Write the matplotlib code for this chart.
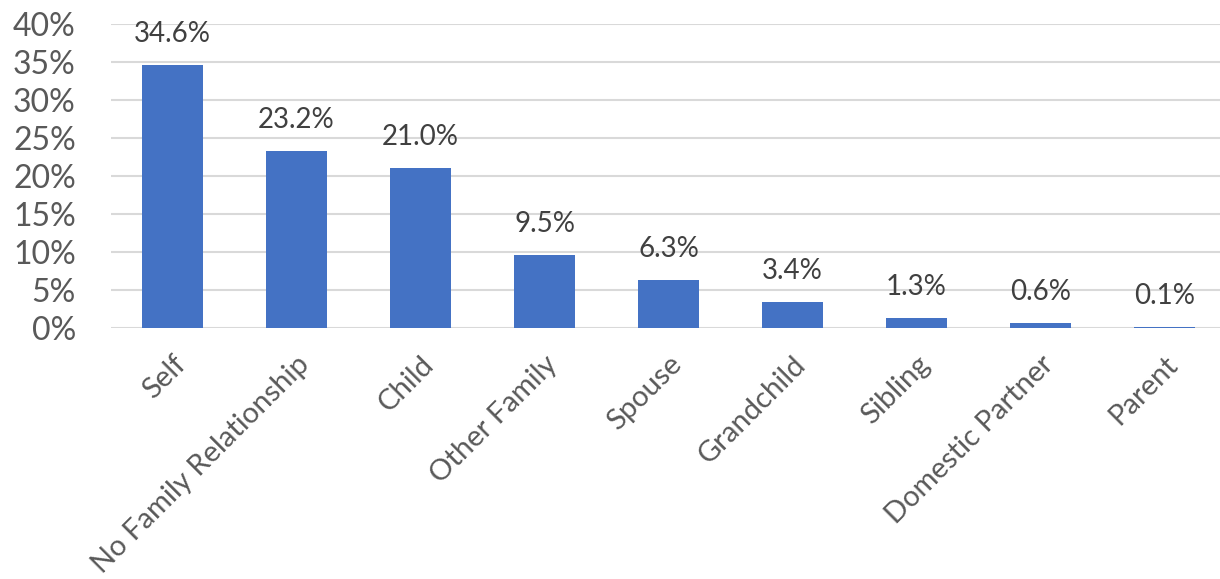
import matplotlib.pyplot as plt
from matplotlib.ticker import FuncFormatter

# --- datos ---
categorias = ["Self", "No Family Relationship", "Child", "Other Family", "Spouse",
              "Grandchild", "Sibling", "Domestic Partner", "Parent"]
valores = [34.6, 23.2, 21.0, 9.5, 6.3, 3.4, 1.3, 0.6, 0.1]
y_ticks = [0, 5, 10, 15, 20, 25, 30, 35, 40]

BAR_COLOR = "#4472C4"
TEXT_COLOR = "#595959"
LABEL_COLOR = "#404040"

plt.rcParams['font.family'] = ['Lato', 'DejaVu Sans']

fig = plt.figure(figsize=(12.2, 5.79), dpi=100)
W, H = 1220, 579
# ejes colocados en pixeles (0% en y=328, 40% en y=23.5)
ax = fig.add_axes([110.5 / W, (H - 327.7) / H, 1116 / W, 304.2 / H])

x = range(len(categorias))
bars = ax.bar(x, valores, width=0.49, color=BAR_COLOR, zorder=3)

for b, v in zip(bars, valores):
    ax.annotate(f"{v:.1f}%", (b.get_x() + b.get_width() / 2, v),
                xytext=(0, 13), textcoords="offset points",
                ha="center", va="bottom", fontsize=20, color=LABEL_COLOR)

ax.set_xlim(-0.5, len(categorias) - 0.5)
ax.set_ylim(0, 40)
ax.set_yticks(y_ticks)
ax.yaxis.set_major_formatter(FuncFormatter(lambda v, p: f"{v:.0f}%"))
ax.grid(axis="y", color="#D9D9D9", linewidth=1.5, zorder=0)
ax.set_axisbelow(True)

for s in ax.spines.values():
    s.set_visible(False)

ax.tick_params(axis="y", length=0, pad=25, labelsize=23, labelcolor=TEXT_COLOR)
ax.tick_params(axis="x", length=0, pad=17, labelsize=21, labelcolor=TEXT_COLOR)
ax.set_xticks(list(x))
ax.set_xticklabels(categorias, rotation=45, ha="right", va="top",
                   rotation_mode="anchor")

fig.savefig("out.png", dpi=100)
